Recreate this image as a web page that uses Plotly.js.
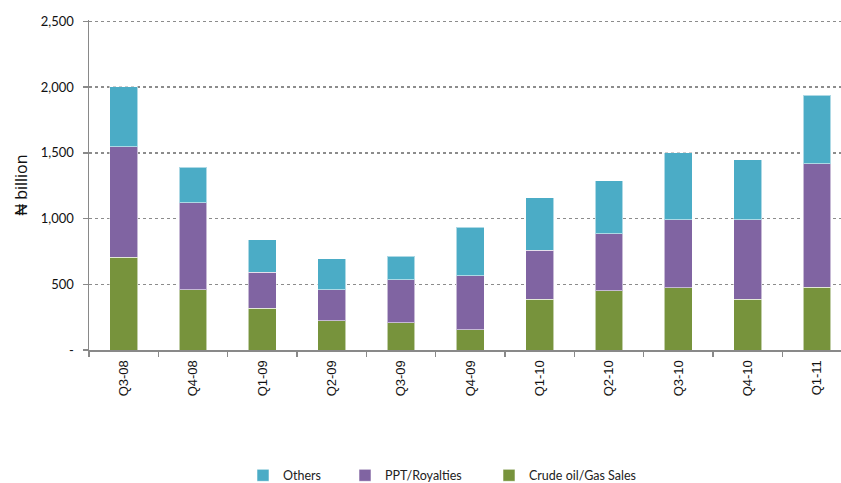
<!DOCTYPE html>
<html>
<head>
<meta charset="utf-8">
<script src="https://cdn.plot.ly/plotly-3.0.1.min.js"></script>
<style>html,body{margin:0;padding:0;background:#fff;}#chart{width:841px;height:483px;}</style>
</head>
<body>
<div id="chart"></div>
<script>
const quarters = ["Q3-08","Q4-08","Q1-09","Q2-09","Q3-09","Q4-09","Q1-10","Q2-10","Q3-10","Q4-10","Q1-11"];
const crudeOilGas = [707,457,317,221,206,153,386,449,474,386,479];
const pptRoyalties = [839,664,273,236,327,412,374,435,518,606,936];
const others = [457,269,248,237,182,370,397,402,508,456,521];
const yTickVals = [0,500,1000,1500,2000,2500];
const yTickText = ["-","500","1,000","1,500","2,000","2,500"];

const lineStyle = {color:"rgba(255,255,255,0.55)", width:1};
const traces = [
  {type:"bar", name:"Crude oil/Gas Sales", x:quarters, y:crudeOilGas, marker:{color:"#77933C", line:lineStyle}, legend:"legend3"},
  {type:"bar", name:"PPT/Royalties", x:quarters, y:pptRoyalties, marker:{color:"#8064A2", line:lineStyle}, legend:"legend2"},
  {type:"bar", name:"Others", x:quarters, y:others, marker:{color:"#4BACC6", line:lineStyle}, legend:"legend"}
];
const legFont = {family:"Lato, 'Open Sans', sans-serif", size:12.5, color:"#222"};
const legBase = {orientation:"h", yanchor:"middle", y:-(476.5-350.5)/330.8, xanchor:"left", font:legFont, bgcolor:"rgba(0,0,0,0)", itemwidth:30, borderwidth:0};
const layout = {
  width:841, height:483,
  margin:{l:89, r:0, t:19.7, b:132.5, autoexpand:false},
  paper_bgcolor:"#fff", plot_bgcolor:"#fff",
  barmode:"stack", bargap:0.6,
  showlegend:true,
  legend:Object.assign({}, legBase, {x:(243-89)/752}),
  legend2:Object.assign({}, legBase, {x:(345-89)/752}),
  legend3:Object.assign({}, legBase, {x:(489-89)/752}),
  xaxis:{
    type:"category", range:[-0.5, 10.346], tickson:"boundaries",
    ticks:"outside", ticklen:5, tickcolor:"#898989", tickwidth:1.5,
    showline:true, linecolor:"#898989", linewidth:2,
    tickangle:-90, ticklabelstandoff:3,
    tickfont:{family:"'Liberation Sans', Arial, sans-serif", size:13, color:"#111"},
    showgrid:false, fixedrange:true, automargin:false
  },
  yaxis:{
    range:[0,2510], tickvals:yTickVals, ticktext:yTickText,
    ticks:"outside", ticklen:5, tickcolor:"#898989", tickwidth:1.5,
    showline:true, linecolor:"#898989", linewidth:1.5,
    showgrid:true, gridcolor:"#8c8c8c", griddash:"dot", gridwidth:1.5,
    zeroline:false, ticklabelstandoff:6,
    tickfont:{family:"Lato, 'Open Sans', sans-serif", size:13, color:"#111"},
    title:{text:"₦ billion", font:{family:"'Open Sans', sans-serif", size:16, color:"#111"}, standoff:9},
    automargin:false
  }
};
Plotly.newPlot("chart", traces, layout, {displayModeBar:false, staticPlot:true});
</script>
</body>
</html>
